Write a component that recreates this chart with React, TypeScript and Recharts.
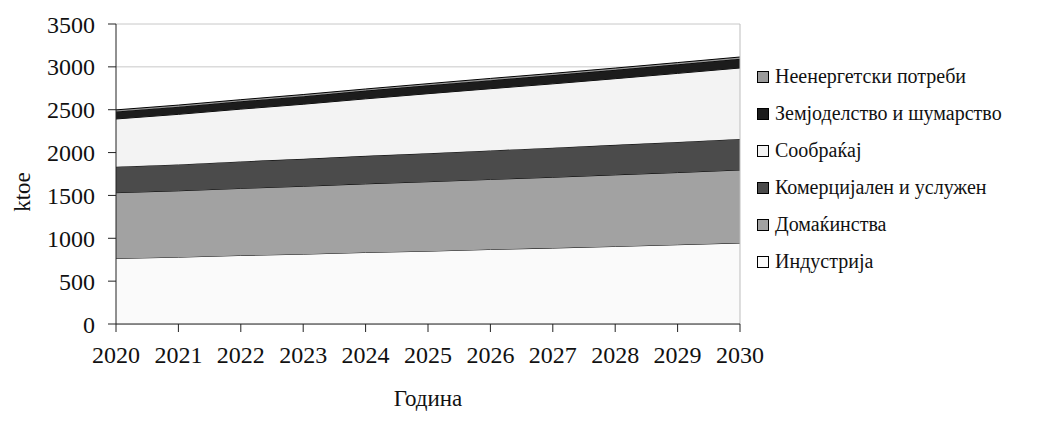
import { Area, AreaChart, CartesianGrid, ReferenceLine, XAxis, YAxis } from "recharts";

const years = ["2020", "2021", "2022", "2023", "2024", "2025", "2026", "2027", "2028", "2029", "2030"];
const industry = [765, 780, 800, 815, 835, 850, 870, 886, 905, 925, 945];
const households = [767, 774, 782, 792, 800, 810, 817, 826, 835, 842, 852];
const commercial = [303, 308, 315, 320, 327, 332, 338, 345, 350, 357, 362];
const transport = [557, 584, 610, 637, 665, 695, 720, 745, 772, 800, 828];
const agriculture = [88, 90, 92, 94, 96, 98, 100, 102, 104, 106, 108];
const nonEnergy = [18, 18, 18, 19, 19, 19, 20, 20, 20, 20, 20];
const yTicks = [0, 500, 1000, 1500, 2000, 2500, 3000, 3500];

const series = [
  { key: "industry", name: "Индустрија", values: industry, fill: "#fafafa" },
  { key: "households", name: "Домаќинства", values: households, fill: "#a2a2a2" },
  { key: "commercial", name: "Комерцијален и услужен", values: commercial, fill: "#4b4b4b" },
  { key: "transport", name: "Сообраќај", values: transport, fill: "#f3f3f3" },
  { key: "agriculture", name: "Земјоделство и шумарство", values: agriculture, fill: "#1c1c1c" },
  { key: "nonEnergy", name: "Неенергетски потреби", values: nonEnergy, fill: "#9a9a9a" },
];

const data = years.map((year, i) => {
  const row: Record<string, string | number> = { year };
  series.forEach((s) => (row[s.key] = s.values[i]));
  return row;
});

const font = "Liberation Serif, DejaVu Serif, serif";

function LegendBox() {
  return (
    <div style={{ position: "absolute", left: 749, top: 50, fontFamily: font, fontSize: 20, color: "#111" }}>
      {[...series].reverse().map((s) => (
        <div key={s.key} style={{ display: "flex", alignItems: "center", height: 37 }}>
          <span
            style={{ width: 10, height: 10, background: s.fill, border: "1px solid #000", marginRight: 6 }}
          />
          <span>{s.name}</span>
        </div>
      ))}
    </div>
  );
}

export default function App() {
  return (
    <div style={{ position: "relative", width: 1047, height: 407, fontFamily: font }}>
      <AreaChart width={1047} height={407} data={data} margin={{ top: 16, right: 315, left: 0, bottom: 0 }}>
        <CartesianGrid vertical={false} stroke="#c8c8c8" />
        <XAxis
          dataKey="year"
          height={91}
          interval={0}
          tickSize={8}
          stroke="#222"
          tick={{ fill: "#111", fontSize: 24, fontFamily: font }}
          tickMargin={14}
          label={{
            content: ({ viewBox }: any) => (
              <text
                x={viewBox.x + viewBox.width / 2}
                y={viewBox.y + 82}
                textAnchor="middle"
                fontSize={23}
                fontFamily={font}
                fill="#111"
              >
                Година
              </text>
            ),
          }}
        />
        <YAxis
          width={108}
          domain={[0, 3500]}
          ticks={yTicks}
          interval={0}
          tickSize={8}
          stroke="#222"
          tick={{ fill: "#111", fontSize: 24, fontFamily: font }}
          tickMargin={13}
          label={{
            content: ({ viewBox }: any) => (
              <text
                x={0}
                y={0}
                transform={`translate(${viewBox.x + 22},${viewBox.y + viewBox.height / 2 + 18}) rotate(-90)`}
                textAnchor="middle"
                fontSize={23}
                fontFamily={font}
                fill="#111"
              >
                ktoe
              </text>
            ),
          }}
        />
        {series.map((s) => (
          <Area
            key={s.key}
            type="linear"
            dataKey={s.key}
            name={s.name}
            stackId="1"
            fill={s.fill}
            fillOpacity={1}
            stroke="#000"
            strokeWidth={1}
            isAnimationActive={false}
            dot={false}
            activeDot={false}
          />
        ))}
        <ReferenceLine x="2030" stroke="#bdbdbd" />
      </AreaChart>
      <LegendBox />
    </div>
  );
}
